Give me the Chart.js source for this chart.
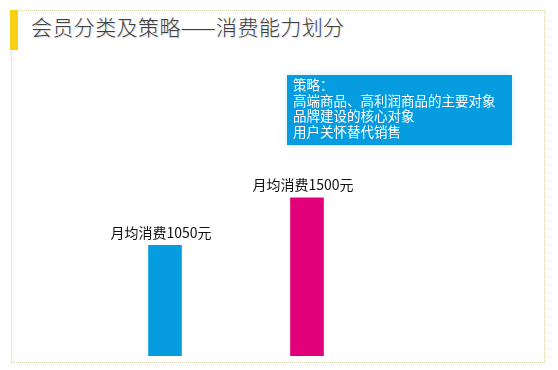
<!DOCTYPE html>
<html>
<head>
<meta charset="utf-8">
<script src="https://cdn.jsdelivr.net/npm/chart.js@4"></script>
<style>
    body { margin: 0; background: #fff; font-family: "Noto Sans CJK SC", sans-serif; }
    #wrap { position: relative; width: 558px; height: 370px; overflow: hidden; }
    #frame {
        position: absolute; left: 11px; top: 10px; width: 532px; height: 351px;
        border: 1px dotted #d9d5b0;
    }
    #marker { position: absolute; left: 10px; top: 10px; width: 8px; height: 40px; background: #f7d117; }
    #title {
        position: absolute; left: 31px; top: 11px; font-size: 21px; color: #3f3f3f;
        letter-spacing: 0.4px; white-space: nowrap; font-weight: 300;
        text-shadow: 1px 1px 1px rgba(0, 0, 0, 0.15);
    }
    #strategy {
        position: absolute; left: 287px; top: 75px; width: 225px; height: 70px;
        background: #069de0; color: #fff; font-size: 13.5px; line-height: 15.7px;
        padding: 2px 0 0 6px; box-sizing: border-box; white-space: nowrap;
        box-shadow: 0 0 6px rgba(150, 210, 240, 0.5);
    }
    canvas { position: absolute; left: 0; top: 0; }
</style>
</head>
<body>
<div id="wrap">
    <div id="frame"></div>
    <div id="marker"></div>
    <div id="title">会员分类及策略——消费能力划分</div>
    <canvas id="chart" width="558" height="370"></canvas>
    <div id="strategy"></div>
</div>
<script>
// Chart data
const categories = ['A', 'B'];
const spending = [1050, 1500];
const barLabels = ['月均消费1050元', '月均消费1500元'];
const barColors = ['#069de0', '#e2007a'];
const strategyLines = ['策略：', '高端商品、高利润商品的主要对象', '品牌建设的核心对象', '用户关怀替代销售'];

document.getElementById('strategy').innerHTML = strategyLines.join('<br>');

// Draw text labels above each bar
const barLabelPlugin = {
    id: 'barLabels',
    afterDatasetsDraw(chart) {
        const ctx = chart.ctx;
        const meta = chart.getDatasetMeta(0);
        ctx.save();
        ctx.font = '14px "Noto Sans CJK SC", sans-serif';
        ctx.fillStyle = '#111';
        ctx.textAlign = 'center';
        ctx.textBaseline = 'bottom';
        meta.data.forEach((bar, i) => {
            ctx.fillText(barLabels[i], bar.x - 4, bar.y - 6);
        });
        ctx.restore();
    }
};

const ctx = document.getElementById('chart').getContext('2d');
new Chart(ctx, {
    type: 'bar',
    data: {
        labels: categories,
        datasets: [{
            data: spending,
            backgroundColor: barColors,
            borderWidth: 0,
            barThickness: 33
        }]
    },
    options: {
        responsive: false,
        animation: false,
        layout: { padding: { left: 94, right: 180, top: 145, bottom: 14 } },
        scales: {
            x: { display: false },
            y: { display: false, min: 0, max: 2000 }
        },
        plugins: {
            legend: { display: false },
            tooltip: { enabled: false }
        }
    },
    plugins: [barLabelPlugin]
});
</script>
</body>
</html>
